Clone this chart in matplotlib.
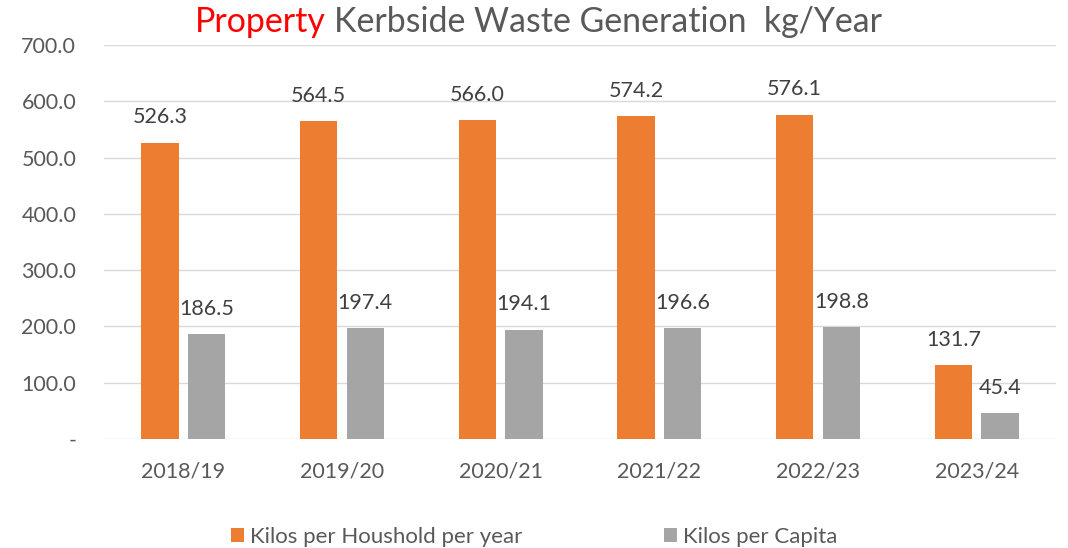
import numpy as np
import matplotlib
matplotlib.use('Agg')
import matplotlib.pyplot as plt

# Chart data
years = ['2018/19', '2019/20', '2020/21', '2021/22', '2022/23', '2023/24']
per_household = [526.3, 564.5, 566.0, 574.2, 576.1, 131.7]
per_capita = [186.5, 197.4, 194.1, 196.6, 198.8, 45.4]
yticks = [0, 100, 200, 300, 400, 500, 600, 700]

orange = '#ed7d31'
grey = '#a5a5a5'
txt = '#595959'

plt.rcParams['font.family'] = ['Lato', 'DejaVu Sans']

fig = plt.figure(figsize=(10.68, 5.48), dpi=100)
ax = fig.add_axes([0.0974, 0.1989, 0.8914, 0.7190])

x = np.arange(len(years))
w = 0.235
off = 0.147
b1 = ax.bar(x - off, per_household, w, color=orange, label='Kilos per Houshold per year', zorder=3)
b2 = ax.bar(x + off, per_capita, w, color=grey, label='Kilos per Capita', zorder=3)

for bars, vals in ((b1, per_household), (b2, per_capita)):
    for r, v in zip(bars, vals):
        ax.annotate(f'{v:.1f}', (r.get_x() + r.get_width() / 2, v), xytext=(0, 11),
                    textcoords='offset points', ha='center', va='bottom',
                    fontsize=15.5, color='#404040')

ax.set_xlim(-0.5, len(years) - 0.5)
ax.set_ylim(0, 700)
ax.set_yticks(yticks)
ax.set_yticklabels(['-' if t == 0 else f'{t:.1f}' for t in yticks])
ax.set_xticks(x)
ax.set_xticklabels(years)
ax.tick_params(axis='y', length=0, pad=20, labelsize=15.5, labelcolor=txt)
ax.tick_params(axis='x', length=0, pad=16, labelsize=15.5, labelcolor=txt)
ax.grid(axis='y', color='#d9d9d9', linewidth=1, zorder=0)
for s in ax.spines.values():
    s.set_visible(False)

leg = fig.legend(loc='center', bbox_to_anchor=(0.5, 0.02), ncol=2, frameon=False,
                 fontsize=16, handlelength=0.6, handleheight=0.6, handletextpad=0.25,
                 columnspacing=6.4, labelcolor=txt)

# two-colour title
t1 = fig.text(195 / 1068, 1 - 22 / 548, 'Property', color='#ff0000', fontsize=24.4, va='center', ha='left')
fig.canvas.draw()
bb = t1.get_window_extent()
fig.text(bb.x1 / 1068 + 8 / 1068, 1 - 22 / 548, 'Kerbside Waste Generation  kg/Year', color=txt,
         fontsize=24.4, va='center', ha='left')

fig.savefig('out.png', dpi=100)
